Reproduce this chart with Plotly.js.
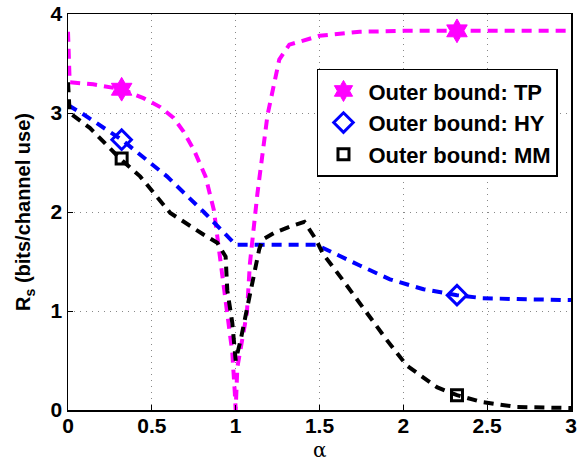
<!DOCTYPE html>
<html>
<head>
<meta charset="utf-8">
<script src="https://cdn.plot.ly/plotly-3.0.1.min.js"></script>
<style>html,body{margin:0;padding:0;background:#fff;}#chart{width:581px;height:462px;}</style>
</head>
<body>
<div id="chart"></div>
<script>
// Outer bound: TP (magenta)
var tpX = [0, 0.01, 0.15, 0.32, 0.45, 0.55, 0.63, 0.69, 0.75, 0.82, 0.87, 0.91, 0.95, 0.98, 0.995, 1.0, 1.01, 1.067, 1.085, 1.13, 1.19, 1.26, 1.32, 1.5, 1.74, 2.0, 2.32, 3.0];
var tpY = [3.82, 3.31, 3.29, 3.24, 3.15, 3.06, 2.95, 2.81, 2.63, 2.36, 2.02, 1.5, 0.98, 0.58, 0.17, 0.0, 0.43, 0.98, 1.48, 2.19, 2.98, 3.54, 3.69, 3.78, 3.82, 3.83, 3.83, 3.83];
// Outer bound: HY (blue)
var hyX = [0, 0.08, 0.32, 0.43, 0.59, 0.81, 0.97, 1.0, 1.48, 1.54, 1.74, 1.92, 2.12, 2.32, 2.47, 2.68, 3.0];
var hyY = [3.08, 3.0, 2.73, 2.58, 2.36, 2.0, 1.73, 1.67, 1.67, 1.62, 1.46, 1.32, 1.22, 1.16, 1.13, 1.12, 1.11];
// Outer bound: MM (black)
var mmX = [0, 0.01, 0.13, 0.31, 0.43, 0.61, 0.81, 0.89, 0.94, 0.95, 0.98, 0.995, 1.0, 1.03, 1.07, 1.11, 1.14, 1.16, 1.23, 1.32, 1.41, 1.48, 1.52, 1.64, 1.78, 1.90, 2.02, 2.2, 2.32, 2.47, 2.68, 3.0];
var mmY = [3.31, 3.0, 2.85, 2.54, 2.36, 1.99, 1.77, 1.69, 1.55, 1.21, 0.88, 0.58, 0.5, 0.71, 1.04, 1.36, 1.62, 1.72, 1.79, 1.85, 1.90, 1.72, 1.58, 1.31, 0.98, 0.71, 0.45, 0.23, 0.15, 0.08, 0.03, 0.02];
// marker positions
var markX = [0.32, 2.32];
var tpMarkY = [3.24, 3.83];
var hyMarkY = [2.73, 1.16];
var mmMarkY = [2.54, 0.15];
var seriesNames = ["Outer bound: TP", "Outer bound: HY", "Outer bound: MM"];
var xTicks = [0, 0.5, 1, 1.5, 2, 2.5, 3];
var yTicks = [0, 1, 2, 3, 4];
var xLabel = "α";
var yLabel = "R<sub>s</sub> (bits/channel use)";

var DASH = "10px,7px";
var LW = 4;
var traces = [
  {x: tpX, y: tpY, mode: "lines", line: {color: "#ff00ff", width: LW, dash: DASH}, showlegend: false, hoverinfo: "skip"},
  {x: hyX, y: hyY, mode: "lines", line: {color: "#0000ff", width: LW, dash: DASH}, showlegend: false, hoverinfo: "skip"},
  {x: mmX, y: mmY, mode: "lines", line: {color: "#000000", width: LW, dash: DASH}, showlegend: false, hoverinfo: "skip"},
  {x: markX, y: tpMarkY, mode: "markers", name: seriesNames[0],
   marker: {symbol: "hexagram", size: 18, color: "#ff00ff", line: {color: "#ff00ff", width: 1}}},
  {x: markX, y: hyMarkY, mode: "markers", name: seriesNames[1],
   marker: {symbol: "diamond-open", size: 15, color: "#0000ff", line: {color: "#0000ff", width: 3}}},
  {x: markX, y: mmMarkY, mode: "markers", name: seriesNames[2],
   marker: {symbol: "square-open", size: 11, color: "#000000", line: {color: "#000000", width: 3}}}
];

var FONT = "Arial, 'Liberation Sans', sans-serif";
var axisCommon = {
  showline: true, mirror: true, linecolor: "#000", linewidth: 1.5,
  ticks: "inside", ticklen: 5, tickcolor: "#000", tickwidth: 1,
  showgrid: true, gridcolor: "#888", gridwidth: 1, griddash: "1px,5px",
  zeroline: false,
  tickfont: {family: FONT, size: 21, color: "#000", weight: "bold"}
};

var layout = {
  width: 581, height: 462,
  margin: {l: 68, r: 10, t: 14, b: 52},
  paper_bgcolor: "#fff", plot_bgcolor: "#fff",
  font: {family: FONT, color: "#000"},
  xaxis: Object.assign({}, axisCommon, {
    range: [0, 3], tickvals: xTicks, ticktext: xTicks.map(String),
    ticklabelstandoff: -4
  }),
  yaxis: Object.assign({}, axisCommon, {
    range: [0, 4], tickvals: yTicks, ticktext: yTicks.map(String),
    title: {text: yLabel, font: {family: FONT, size: 20, color: "#000", weight: "bold"}, standoff: 14}
  }),
  annotations: [{
    text: xLabel, xref: "paper", yref: "paper", x: 0.5, y: -0.1,
    xanchor: "center", yanchor: "middle", showarrow: false,
    font: {family: "'DejaVu Serif', serif", size: 20, color: "#000"}
  }],
  legend: {
    x: 0.495, y: 0.862, xanchor: "left", yanchor: "top",
    bgcolor: "#fff", bordercolor: "#000", borderwidth: 1.5,
    itemwidth: 40,
    font: {family: FONT, size: 22, color: "#000", weight: "bold"}
  },
  showlegend: true
};

Plotly.newPlot("chart", traces, layout, {displayModeBar: false, staticPlot: true});
</script>
</body>
</html>
